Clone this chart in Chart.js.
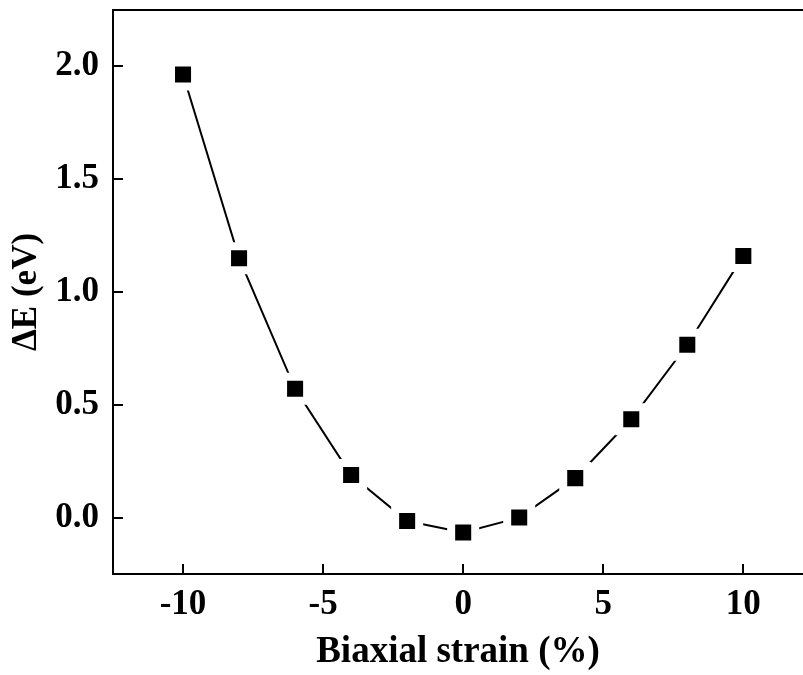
<!DOCTYPE html>
<html>
<head>
<meta charset="utf-8">
<script src="https://cdn.jsdelivr.net/npm/chart.js@4.4.0/dist/chart.umd.min.js"></script>
<style>
  html, body { margin: 0; padding: 0; background: #fff; overflow: hidden; }
  #wrap { width: 803px; height: 675px; }
</style>
</head>
<body>
<div id="wrap"><canvas id="myChart"></canvas></div>
<script>
// strain (%) and energy difference (eV)
const strain = [-10, -8, -6, -4, -2, 0, 2, 4, 6, 8, 10];
const deltaE = [1.964, 1.150, 0.571, 0.189, -0.015, -0.066, 0.0, 0.175, 0.436, 0.766, 1.160];
const xTicks = [-10, -5, 0, 5, 10];
const yTicks = [0, 0.5, 1.0, 1.5, 2.0];

const points = strain.map((s, i) => ({x: s, y: deltaE[i]}));

// inward ticks + top frame line
const frame = {
  id: 'frame',
  afterDraw(chart) {
    const {ctx, chartArea: a, scales: {x, y}} = chart;
    ctx.save();
    ctx.strokeStyle = '#000';
    ctx.lineWidth = 2;
    ctx.beginPath();
    ctx.moveTo(a.left, a.top);
    ctx.lineTo(chart.width, a.top);
    xTicks.forEach(v => {
      const px = Math.round(x.getPixelForValue(v));
      ctx.moveTo(px, a.bottom);
      ctx.lineTo(px, a.bottom - 10);
    });
    yTicks.forEach(v => {
      const py = Math.round(y.getPixelForValue(v));
      ctx.moveTo(a.left, py);
      ctx.lineTo(a.left + 10, py);
    });
    ctx.stroke();
    ctx.restore();
  }
};

// top label sits well below the frame, so no need for the extra edge room
const noPad = s => {
  s.paddingTop = 0; s.paddingBottom = 0;
  s.getPadding = () => ({left: 0, top: 0, right: 0, bottom: 0});
};

const serif = '"Liberation Serif", "Times New Roman", serif';
const tickFont = {family: serif, size: 35, weight: 'bold'};

const config = {
  type: 'scatter',
  data: {
    datasets: [{
      data: points,
      showLine: true,
      borderColor: '#000',
      borderWidth: 2,
      pointStyle: 'rect',
      pointRadius: 17,
      pointBackgroundColor: '#000',
      pointBorderColor: '#fff',   // white rim leaves the small gap between line and marker
      pointBorderWidth: 8,
      pointHoverRadius: 17,
      clip: false
    }]
  },
  options: {
    responsive: true,
    maintainAspectRatio: false,
    animation: false,
    layout: { autoPadding: false, padding: {top: 10, right: 0, left: 0, bottom: 0} },
    plugins: {
      legend: { display: false },
      tooltip: { enabled: false }
    },
    scales: {
      x: {
        type: 'linear',
        min: -12.5,
        max: 12.13,
        afterBuildTicks: s => { s.ticks = xTicks.map(v => ({value: v})); },
        afterFit: s => { s.height = 101; },
        grid: { display: false, drawTicks: false },
        border: { display: true, color: '#000', width: 2 },
        ticks: { color: '#000', font: tickFont, padding: 10, maxRotation: 0 },
        title: {
          display: true,
          text: 'Biaxial strain (%)',
          color: '#000',
          font: {family: serif, size: 37, weight: 'bold'},
          padding: {top: 0, bottom: 0}
        }
      },
      y: {
        type: 'linear',
        min: -0.25,
        max: 2.25,
        afterBuildTicks: s => { s.ticks = yTicks.map(v => ({value: v})); },
        afterFit: s => { s.width = 113; noPad(s); },
        grid: { display: false, drawTicks: false },
        border: { display: true, color: '#000', width: 2 },
        ticks: { color: '#000', font: tickFont, padding: 14, callback: v => v.toFixed(1) },
        title: {
          display: true,
          text: 'ΔE (eV)',
          color: '#000',
          font: {family: serif, size: 35, weight: 'bold'},
          padding: {top: 6, bottom: 0}
        }
      }
    }
  },
  plugins: [frame]
};

new Chart(document.getElementById('myChart').getContext('2d'), config);
</script>
</body>
</html>
